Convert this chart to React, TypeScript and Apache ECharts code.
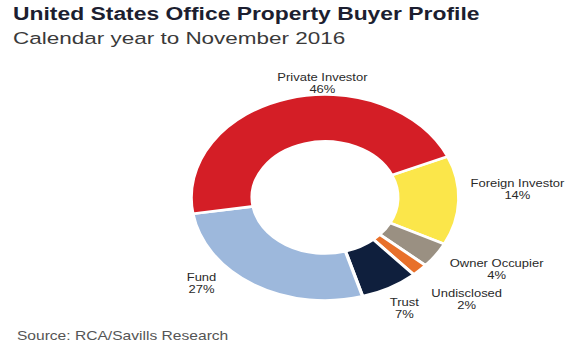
import React, { useEffect, useRef } from "react";
import * as echarts from "echarts";

const titleText = "United States Office Property Buyer Profile";
const subtitleText = "Calendar year to November 2016";
const sourceText = "Source: RCA/Savills Research";

const categories = ["Foreign Investor", "Owner Occupier", "Undisclosed", "Trust", "Fund", "Private Investor"];
const shares = [14, 4, 2, 7, 27, 46];
const colors = ["#FBE64A", "#9A9082", "#E8702A", "#0F1F3D", "#9DB8DC", "#D41E26"];

// label anchor points (unscaled chart coordinates)
const labelAnchors: [number, number][] = [
  [398, 190],
  [382, 270],
  [359, 300],
  [311, 309],
  [155, 284],
  [248, 84],
];

const SX = 1.3;
const W = 580;
const H = 352;

export default function App() {
  const ref = useRef<HTMLDivElement>(null);
  useEffect(() => {
    if (!ref.current) return;
    const chart = echarts.init(ref.current, undefined, { renderer: "svg" });
    chart.setOption({
      animation: false,
      backgroundColor: "#ffffff",
      title: [
        {
          text: titleText,
          left: 10,
          top: 5,
          padding: 0,
          textStyle: { fontFamily: "Liberation Sans", fontSize: 17.6, fontWeight: "bold", color: "#1c1e30" },
        },
        {
          text: subtitleText,
          left: 10,
          top: 29,
          padding: 0,
          textStyle: { fontFamily: "Liberation Sans", fontSize: 17.3, fontWeight: "normal", color: "#3a3a3a" },
        },
        {
          text: sourceText,
          left: 13,
          top: 330,
          padding: 0,
          textStyle: { fontFamily: "Liberation Sans", fontSize: 12, fontWeight: "normal", color: "#555555" },
        },
      ],
      series: [
        {
          type: "pie",
          center: [250, 197.5],
          radius: [56, 103],
          startAngle: 23.5,
          clockwise: true,
          avoidLabelOverlap: false,
          itemStyle: { borderColor: "#ffffff", borderWidth: 2.6 },
          label: {
            show: true,
            position: "outside",
            formatter: "{b}\n{c}%",
            fontFamily: "Liberation Sans",
            fontSize: 10,
            lineHeight: 12,
            color: "#2a2a2a",
            align: "center",
          },
          labelLine: { show: false },
          labelLayout: (params: any) => {
            const p = labelAnchors[params.dataIndex];
            return { x: p[0], y: p[1], align: "center", verticalAlign: "middle" };
          },
          emphasis: { disabled: true },
          data: categories.map((name, i) => ({
            name,
            value: shares[i],
            itemStyle: { color: colors[i] },
          })),
        },
      ],
    });
    return () => chart.dispose();
  }, []);

  return (
    <div style={{ position: "fixed", left: 0, top: 0, width: W, height: H, overflow: "hidden", background: "#fff" }}>
      <div
        ref={ref}
        style={{
          width: W / SX,
          height: H,
          transform: `scaleX(${SX})`,
          transformOrigin: "0 0",
        }}
      />
    </div>
  );
}
